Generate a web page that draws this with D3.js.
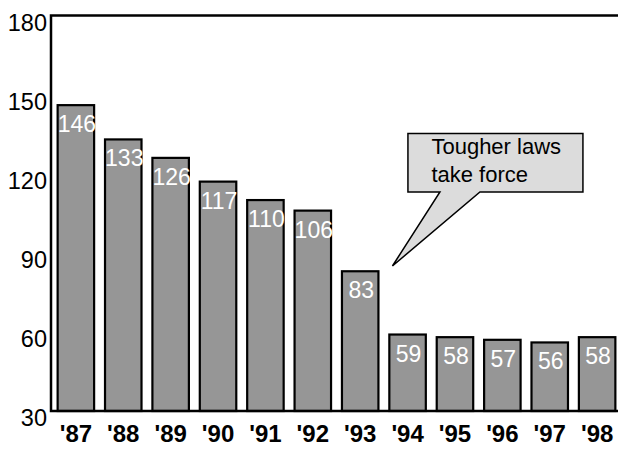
<!DOCTYPE html>
<html><head><meta charset="utf-8">
<script src="https://cdn.jsdelivr.net/npm/d3@7"></script>
<style>body{margin:0;background:#fff}svg{display:block}text{font-family:Arial,"Liberation Sans",sans-serif}</style>
</head><body><svg id="c" width="618" height="449"></svg>
<script>
const years = ["'87","'88","'89","'90","'91","'92","'93","'94","'95","'96","'97","'98"];
const values = [146,133,126,117,110,106,83,59,58,57,56,58];
const yTicks = [30,60,90,120,150,180];
const calloutLines = ["Tougher laws","take force"];
const calloutYear = "'93";
const calloutValue = 85;

(function(){
const svg = d3.select("#c");
const mLeft = 51, mRight = 618, mTop = 15.5, mBottom = 411;
const x = d3.scaleBand().domain(years).range([mLeft, 622]).paddingInner(0.23).paddingOuter(0.14);
const y = d3.scaleLinear().domain([30,180]).range([mBottom, mTop]);

svg.append("g").selectAll("rect").data(values).join("rect")
  .attr("x", (d,i)=>x(years[i]))
  .attr("y", d=>y(d))
  .attr("width", x.bandwidth())
  .attr("height", d=>mBottom - y(d))
  .attr("fill", "#969696").attr("stroke", "#000").attr("stroke-width", 2.2);

svg.append("g").selectAll("text").data(values).join("text")
  .attr("x", (d,i)=>x(years[i]) + x.bandwidth()/2 + 1)
  .attr("y", d=>y(d) + 27)
  .attr("text-anchor", "middle")
  .attr("fill", "#fff").attr("font-size", 23)
  .text(d=>d);

const ya = svg.append("g").attr("transform", `translate(${mLeft},0)`)
  .call(d3.axisLeft(y).tickValues(yTicks).tickSize(0).tickPadding(4));
ya.select(".domain").remove();
ya.selectAll("text").attr("font-size", 23.5).attr("fill", "#000").attr("dy", "0.62em")
  .attr("font-family", "Arial, 'Liberation Sans', sans-serif");

const xa = svg.append("g").attr("transform", `translate(0,${mBottom})`)
  .call(d3.axisBottom(x).tickSize(0).tickPadding(14));
xa.select(".domain").remove();
xa.selectAll("text").attr("font-size", 24).attr("font-weight", "bold").attr("fill", "#000")
  .attr("font-family", "Arial, 'Liberation Sans', sans-serif");

svg.append("path")
  .attr("d", `M${mRight},${mTop} H${mLeft} V${mBottom} H${mRight}`)
  .attr("fill", "none").attr("stroke", "#000").attr("stroke-width", 2.5);

const tipX = x(calloutYear) + x.bandwidth() + 14;
const tipY = y(calloutValue);
const bx0 = tipX + 15.5, bx1 = tipX + 190.5, by0 = tipY - 132.5, by1 = tipY - 74;
svg.append("path")
  .attr("d", `M${bx0},${by0} H${bx1} V${by1} H${tipX+87.5} L${tipX},${tipY} L${tipX+47.5},${by1} H${bx0} Z`)
  .attr("fill", "#dcdcdc").attr("stroke", "#000").attr("stroke-width", 1.5);
svg.append("g").selectAll("text").data(calloutLines).join("text")
  .attr("x", tipX + 39).attr("y", (d,i)=>by0 + 21 + i*27.5)
  .attr("font-size", 22).attr("fill", "#000").text(d=>d);
})();
</script></body></html>
